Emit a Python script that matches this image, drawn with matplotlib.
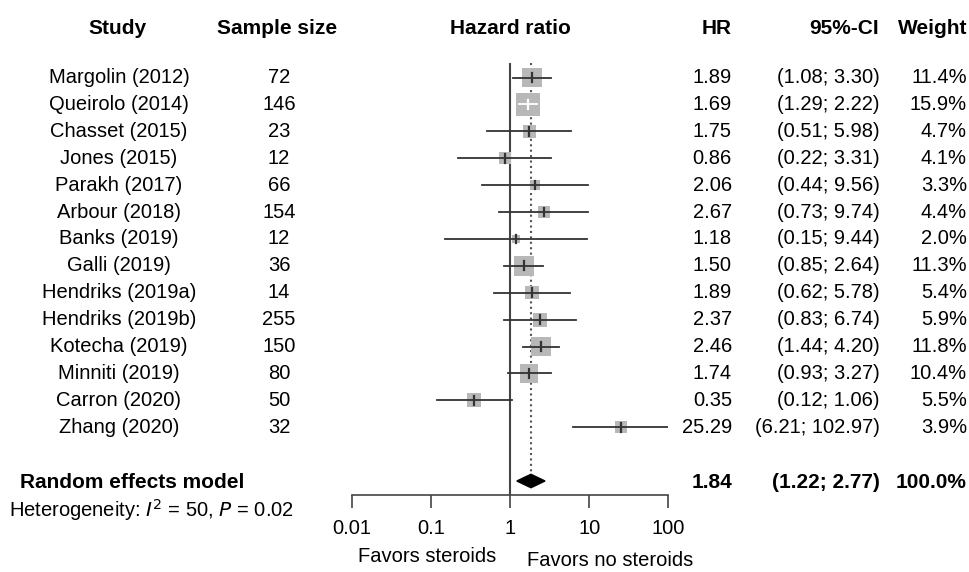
import matplotlib.pyplot as plt
import numpy as np

plt.rcParams['font.family'] = ['Liberation Sans', 'DejaVu Sans']

studies = ["Margolin (2012)", "Queirolo (2014)", "Chasset (2015)", "Jones (2015)",
           "Parakh (2017)", "Arbour (2018)", "Banks (2019)", "Galli (2019)",
           "Hendriks (2019a)", "Hendriks (2019b)", "Kotecha (2019)", "Minniti (2019)",
           "Carron (2020)", "Zhang (2020)"]
sample_size = [72, 146, 23, 12, 66, 154, 12, 36, 14, 255, 150, 80, 50, 32]
hr = [1.89, 1.69, 1.75, 0.86, 2.06, 2.67, 1.18, 1.50, 1.89, 2.37, 2.46, 1.74, 0.35, 25.29]
ci_low = [1.08, 1.29, 0.51, 0.22, 0.44, 0.73, 0.15, 0.85, 0.62, 0.83, 1.44, 0.93, 0.12, 6.21]
ci_high = [3.30, 2.22, 5.98, 3.31, 9.56, 9.74, 9.44, 2.64, 5.78, 6.74, 4.20, 3.27, 1.06, 102.97]
weight = [11.4, 15.9, 4.7, 4.1, 3.3, 4.4, 2.0, 11.3, 5.4, 5.9, 11.8, 10.4, 5.5, 3.9]

pooled_hr = 1.84
pooled_low = 1.22
pooled_high = 2.77
ticks = [0.01, 0.1, 1, 10, 100]
tick_labels = ["0.01", "0.1", "1", "10", "100"]

W, H = 970, 572
row0, step = 77.5, 26.9
pooled_row = 15
fs = 14.5     # regular text
fsb = 15      # bold text

fig = plt.figure(figsize=(W / 100, H / 100), dpi=100)

# text layer in pixel coordinates
bg = fig.add_axes([0, 0, 1, 1])
bg.set_xlim(0, W)
bg.set_ylim(H, 0)
bg.axis("off")

# forest panel, log scale
x0, x1 = 351.7, 668.3
top_px, axis_px = 63, 495
ax = fig.add_axes([x0 / W, (H - axis_px) / H, (x1 - x0) / W, (axis_px - top_px) / H])
ax.patch.set_alpha(0)
ax.set_xscale("log")
ax.set_xlim(0.01, 100)
ax.set_ylim((axis_px - row0) / step, (top_px - row0) / step)
for s in ["top", "right", "left"]:
    ax.spines[s].set_visible(False)
ax.spines["bottom"].set_color("#444444")
ax.spines["bottom"].set_linewidth(1.2)
ax.set_xticks(ticks)
ax.set_xticklabels(tick_labels, fontsize=fs)
ax.minorticks_off()
ax.tick_params(axis="x", length=9.5, width=1.2, color="#444444", pad=8)
ax.set_yticks([])

px_per_dec = (x1 - x0) / 4
rows = np.arange(len(studies))

# reference and pooled lines
ytop, ybot = ax.get_ylim()[1], ax.get_ylim()[0]
ax.plot([1, 1], [ytop, ybot], color="#444444", lw=1.5, zorder=1)
ax.plot([pooled_hr, pooled_hr], [ytop, pooled_row - 0.25], color="#555555",
        lw=1.5, ls=(0, (1, 1.6)), zorder=1)

for i in rows:
    side_px = 5.8 * np.sqrt(weight[i])
    ax.scatter(hr[i], i, marker="s", s=(side_px * 0.72) ** 2, color="#b8b8b8",
               edgecolor="none", zorder=2)
    half = side_px / 2 / px_per_dec
    inside = (np.log10(ci_low[i]) > np.log10(hr[i]) - half and
              np.log10(ci_high[i]) < np.log10(hr[i]) + half)
    col = "white" if inside else "#333333"
    ax.plot([ci_low[i], min(ci_high[i], 100)], [i, i], color=col, lw=1.3, zorder=3)
    ax.plot([hr[i], hr[i]], [i - 0.16, i + 0.16], color=col, lw=1.6, zorder=3)

# pooled diamond
ax.fill([pooled_low, pooled_hr, pooled_high, pooled_hr],
        [pooled_row, pooled_row - 0.25, pooled_row, pooled_row + 0.25],
        color="black", zorder=3)

# headers
hy = 28
bg.text(117, hy, "Study", ha="center", va="center", fontsize=fsb, fontweight="bold")
bg.text(277, hy, "Sample size", ha="center", va="center", fontsize=fsb, fontweight="bold")
bg.text(510, hy, "Hazard ratio", ha="center", va="center", fontsize=fsb, fontweight="bold")
bg.text(732, hy, "HR", ha="right", va="center", fontsize=fsb, fontweight="bold")
bg.text(879, hy, "95%-CI", ha="right", va="center", fontsize=fsb, fontweight="bold")
bg.text(967, hy, "Weight", ha="right", va="center", fontsize=fsb, fontweight="bold")

for i in rows:
    y = row0 + i * step
    bg.text(119, y, studies[i], ha="center", va="center", fontsize=fs)
    bg.text(279, y, str(sample_size[i]), ha="center", va="center", fontsize=fs)
    bg.text(732, y, f"{hr[i]:.2f}", ha="right", va="center", fontsize=fs)
    bg.text(880, y, f"({ci_low[i]:.2f}; {ci_high[i]:.2f})", ha="right", va="center", fontsize=fs)
    bg.text(967, y, f"{weight[i]:.1f}%", ha="right", va="center", fontsize=fs)

py = row0 + pooled_row * step + 2
bg.text(20, py, "Random effects model", ha="left", va="center", fontsize=fsb, fontweight="bold")
bg.text(732, py, f"{pooled_hr:.2f}", ha="right", va="center", fontsize=fsb, fontweight="bold")
bg.text(880, py, f"({pooled_low:.2f}; {pooled_high:.2f})", ha="right", va="center",
        fontsize=fsb, fontweight="bold")
bg.text(967, py, "100.0%", ha="right", va="center", fontsize=fsb, fontweight="bold")
bg.text(9, 510, r"Heterogeneity: $\mathit{I}^2$ = 50, $\mathit{P}$ = 0.02", ha="left",
        va="center", fontsize=fs)

bg.text(427, 557, "Favors steroids", ha="center", va="center", fontsize=fs)
bg.text(610, 561, "Favors no steroids", ha="center", va="center", fontsize=fs)

fig.savefig("out.png", dpi=100)
